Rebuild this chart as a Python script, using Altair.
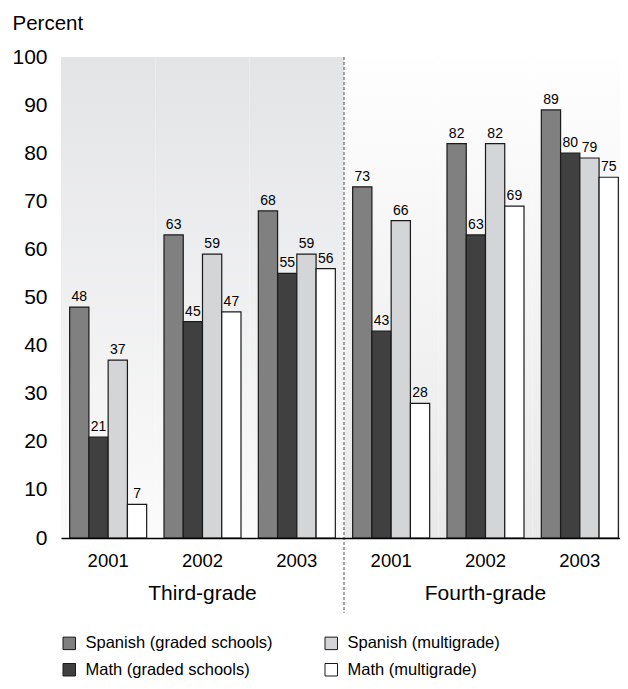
import altair as alt
import pandas as pd

groups = ["T2001", "T2002", "T2003", "F2001", "F2002", "F2003"]
grades = ["Third-grade", "Third-grade", "Third-grade", "Fourth-grade", "Fourth-grade", "Fourth-grade"]
series = ["Spanish (graded schools)", "Math (graded schools)", "Spanish (multigrade)", "Math (multigrade)"]
spanish_graded = [48, 63, 68, 73, 82, 89]
math_graded = [21, 45, 55, 43, 63, 80]
spanish_multi = [37, 59, 59, 66, 82, 79]
math_multi = [7, 47, 56, 28, 69, 75]
series_colors = ["#808080", "#404040", "#d4d5d7", "#ffffff"]
grade_labels = ["Third-grade", "Fourth-grade"]
grade_label_groups = ["T2002", "F2002"]

rows = []
for s, vals in zip(series, [spanish_graded, math_graded, spanish_multi, math_multi]):
    for g, gr, v in zip(groups, grades, vals):
        rows.append({"group": g, "grade": gr, "series": s, "value": v})
df = pd.DataFrame(rows)
bg = pd.DataFrame({"group": groups, "grade": grades})
lab = pd.DataFrame({"grade": grade_labels, "group": grade_label_groups})
div = pd.DataFrame({"group": ["F2001"]})

W, H = 566, 481
FONT = "Liberation Sans, Arial, sans-serif"

xscale = alt.Scale(domain=groups, paddingInner=0, paddingOuter=0)
xaxis = alt.Axis(labelExpr="substring(datum.value, 1)", labelAngle=0, labelFontSize=18.5,
                 labelPadding=13, ticks=False, domain=True, domainColor="black",
                 domainWidth=1.5, title=None, labelColor="black", labelFont=FONT)
yscale = alt.Scale(domain=[0, 100])
offscale = alt.Scale(domain=series, paddingInner=0, paddingOuter=0.45)

def bg_layer(grade, top, bottom):
    return alt.Chart(bg).transform_filter(alt.datum.grade == grade).mark_rect(
        fill={"gradient": "linear", "x1": 0, "y1": 0, "x2": 0, "y2": 1,
              "stops": [{"offset": 0, "color": top}, {"offset": 1, "color": bottom}]},
        strokeWidth=0,
    ).encode(
        x=alt.X("group:N", scale=xscale, axis=xaxis, sort=groups),
        y=alt.datum(100, scale=yscale),
        y2=alt.datum(0),
    )

bg_third = bg_layer("Third-grade", "#e3e4e6", "#fbfbfb")
bg_fourth = bg_layer("Fourth-grade", "#fefefe", "#e9e9e9")

bars = alt.Chart(df).mark_bar(stroke="#1a1a1a", strokeWidth=1.2).encode(
    x=alt.X("group:N", scale=xscale, sort=groups, axis=xaxis),
    xOffset=alt.XOffset("series:N", sort=series, scale=offscale),
    y=alt.Y("value:Q", scale=yscale,
            axis=alt.Axis(values=list(range(0, 101, 10)), domain=False, ticks=False, grid=False,
                          labelFontSize=21, labelPadding=14, labelColor="black", labelFont=FONT,
                          title="Percent", titleAngle=0, titleAlign="left",
                          titleBaseline="alphabetic", titleX=-49, titleY=-28,
                          titleFontSize=20.5, titleFontWeight="normal", titleFont=FONT,
                          titleColor="black")),
    fill=alt.Fill("series:N", scale=alt.Scale(domain=series, range=series_colors),
                  legend=alt.Legend(title=None, orient="none", legendX=0, legendY=578,
                                    columns=2, columnPadding=50, rowPadding=9.5, padding=0,
                                    symbolType="square", symbolSize=156,
                                    symbolStrokeColor="#1a1a1a", symbolStrokeWidth=1,
                                    labelOffset=8, labelFontSize=16.5, labelFont=FONT,
                                    labelColor="black", labelLimit=300, symbolOffset=0)),
)

texts = alt.Chart(df).mark_text(baseline="alphabetic", dy=-6, fontSize=14, font=FONT,
                                color="black").encode(
    x=alt.X("group:N", scale=xscale, sort=groups, axis=xaxis),
    xOffset=alt.XOffset("series:N", sort=series, scale=offscale),
    y=alt.Y("value:Q", scale=yscale),
    text=alt.Text("value:Q"),
)

divider = alt.Chart(div).mark_rule(color="#555555", strokeDash=[3, 2], strokeWidth=1).encode(
    x=alt.X("group:N", scale=xscale, sort=groups, bandPosition=0, axis=xaxis),
    y=alt.datum(100, scale=yscale),
    y2=alt.value(H + 75),
)

grade_text = alt.Chart(lab).mark_text(fontSize=21, font=FONT, color="black",
                                      baseline="middle").encode(
    x=alt.X("group:N", scale=xscale, sort=groups, axis=xaxis),
    y=alt.value(H + 56),
    text="grade:N",
)

chart = alt.layer(bg_third, bg_fourth, divider, bars, texts, grade_text).properties(
    width=W, height=H,
    autosize=alt.AutoSizeParams(type="none"),
    padding={"left": 53, "top": 49, "right": -7, "bottom": 143},
).configure_view(stroke="black", strokeWidth=1.5).configure(background="white")

chart.save("out.html", embed_options={"renderer": "svg", "actions": False})
